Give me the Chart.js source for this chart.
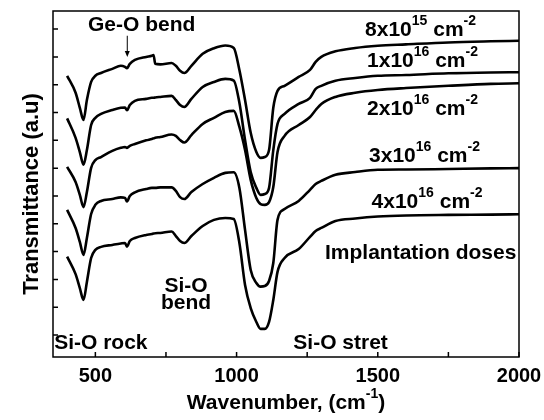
<!DOCTYPE html>
<html>
<head>
<meta charset="utf-8">
<script src="https://cdn.jsdelivr.net/npm/chart.js@4.4.1/dist/chart.umd.min.js"></script>
<style>
html,body{margin:0;padding:0;background:#fff;}
</style>
</head>
<body>
<canvas id="ftirChart" width="544" height="420"></canvas>
<script>
// ==========================================
// DATA
// ==========================================

const wavenumber = [400,430,445,458,470,485,500,520,560,590,605,612,622,640,680,700,706,712,730,770,785,800,815,840,880,920,960,990,1010,1030,1050,1070,1085,1100,1115,1130,1145,1170,1220,1260,1280,1300,1350,1420,1500,1600,1750,1900,2000];

const dose8e15 = [9.32,8.71,8.17,7.73,8.45,9.10,9.32,9.42,9.57,9.68,9.64,9.59,9.75,9.89,10.00,10.04,10.07,9.75,9.73,9.78,9.68,9.50,9.42,9.68,10.11,10.31,10.41,10.32,9.53,8.45,7.27,6.58,6.37,6.40,6.65,8.17,8.78,8.96,9.28,9.53,9.82,10.00,10.20,10.32,10.40,10.45,10.52,10.56,10.58];

const dose1e16 = [7.79,7.09,6.58,6.12,6.65,7.55,7.81,7.95,8.09,8.17,8.18,8.08,8.27,8.42,8.49,8.53,8.53,8.54,8.56,8.60,8.45,8.27,8.20,8.49,8.92,9.10,9.21,9.15,8.35,7.01,5.86,5.29,5.04,5.07,5.29,6.65,7.59,7.95,8.31,8.53,8.85,8.96,9.14,9.24,9.32,9.35,9.41,9.44,9.45];

const dose2e16 = [6.05,5.50,5.04,4.60,5.14,6.01,6.29,6.40,6.62,6.73,6.76,6.73,6.80,6.87,7.00,7.05,7.07,7.09,7.12,7.21,7.16,7.01,6.92,7.19,7.59,7.81,8.02,8.06,7.48,6.65,5.58,4.93,4.71,4.68,4.78,5.32,6.58,7.16,7.55,7.84,8.09,8.31,8.56,8.71,8.81,8.88,8.96,9.03,9.05];

const dose3e16 = [4.50,3.85,3.35,2.88,3.49,4.35,4.68,4.82,4.89,4.95,4.93,4.80,5.00,5.13,5.25,5.29,5.29,5.29,5.31,5.31,5.18,4.96,4.89,5.14,5.43,5.65,5.83,5.85,5.29,3.78,2.34,1.87,1.74,1.76,1.94,2.59,4.14,4.53,4.82,5.22,5.43,5.54,5.76,5.86,5.94,5.95,5.97,5.99,6.00];

const dose4e16 = [2.82,2.19,1.69,1.26,1.91,2.77,3.06,3.17,3.24,3.29,3.31,3.18,3.38,3.49,3.60,3.63,3.65,3.66,3.67,3.72,3.56,3.38,3.31,3.56,3.92,4.14,4.21,4.17,3.31,1.80,0.97,0.47,0.22,0.22,0.47,1.26,2.27,2.77,3.09,3.53,3.74,3.85,4.10,4.19,4.26,4.30,4.32,4.33,4.34];

const doseLabels = ["8x10^{15} cm^{-2}","1x10^{16} cm^{-2}","2x10^{16} cm^{-2}","3x10^{16} cm^{-2}","4x10^{16} cm^{-2}"];


// ==========================================
// TEXT ON THE PLOT (positions in data units)
// ==========================================

const notes = [
    {text:doseLabels[0], x:1455, y:10.76, align:"left"},
    {text:doseLabels[1], x:1462, y:9.65, align:"left"},
    {text:doseLabels[2], x:1462, y:7.91, align:"left"},
    {text:doseLabels[3], x:1469, y:6.23, align:"left"},
    {text:doseLabels[4], x:1478, y:4.58, align:"left"},
    {text:"Implantation doses", x:1313, y:2.72, align:"left"},
    {text:"Ge-O bend", x:474, y:10.92, align:"left"},
    {text:"Si-O", x:821, y:1.56, align:"center"},
    {text:"bend", x:821, y:0.92, align:"center"},
    {text:"Si-O rock", x:354, y:-0.51, align:"left"},
    {text:"Si-O stret", x:1201, y:-0.51, align:"left"}
];

const FONT = '"Liberation Sans", Arial, sans-serif';
Chart.defaults.font.family = FONT;
Chart.defaults.color = "#000";

// text with ^{...} superscripts
function drawRich(ctx, str, x, y, align, size){

    size = size || 21;
    const big = "bold " + size + "px " + FONT;
    const small = "bold " + Math.round(size * 0.67) + "px " + FONT;
    const parts = str.split(/(\^\{[^}]*\})/).filter(s => s.length).map(s =>
        s.startsWith("^{") ? {t:s.slice(2,-1), sup:true} : {t:s, sup:false});

    let w = 0;
    parts.forEach(p => { ctx.font = p.sup ? small : big; w += ctx.measureText(p.t).width; });

    let cx = align === "center" ? x - w/2 : x;
    ctx.textAlign = "left";
    ctx.textBaseline = "alphabetic";
    parts.forEach(p => {
        ctx.font = p.sup ? small : big;
        ctx.fillText(p.t, cx, p.sup ? y - size * 0.52 : y);
        cx += ctx.measureText(p.t).width;
    });
}

const framePlugin = {

    id:"frame",

    afterDatasetsDraw(chart){

        const {ctx, chartArea:a, scales:{x, y}} = chart;

        ctx.save();
        ctx.strokeStyle = "#000";
        ctx.fillStyle = "#000";

        // box
        ctx.lineWidth = 1.5;
        ctx.strokeRect(a.left, a.top, a.right - a.left, a.bottom - a.top);

        // inward ticks
        ctx.beginPath();
        x.ticks.forEach(t => {
            const px = x.getPixelForValue(t.value);
            ctx.moveTo(px, a.bottom);
            ctx.lineTo(px, a.bottom - 5);
        });
        y.ticks.forEach(t => {
            const py = y.getPixelForValue(t.value);
            ctx.moveTo(a.left, py);
            ctx.lineTo(a.left + 5, py);
        });
        ctx.stroke();

        // labels
        notes.forEach(n => drawRich(ctx, n.text, x.getPixelForValue(n.x), y.getPixelForValue(n.y), n.align));

        // Ge-O arrow
        const ax = x.getPixelForValue(613);
        const ay0 = y.getPixelForValue(10.76);
        const ay1 = y.getPixelForValue(10.0);
        ctx.lineWidth = 1;
        ctx.beginPath();
        ctx.moveTo(ax, ay0);
        ctx.lineTo(ax, ay1 - 5);
        ctx.stroke();
        ctx.beginPath();
        ctx.moveTo(ax - 2.5, ay1 - 6);
        ctx.lineTo(ax + 2.5, ay1 - 6);
        ctx.lineTo(ax, ay1);
        ctx.closePath();
        ctx.fill();

        // axis titles
        drawRich(ctx, "Wavenumber, (cm^{-1})", (a.left + a.right)/2, 409, "center");

        ctx.translate(38, 194);
        ctx.rotate(-Math.PI/2);
        drawRich(ctx, "Transmittance (a.u)", 0, 0, "center", 22);

        ctx.restore();
    }
};


// ==========================================
// CHART
// ==========================================

const series = [dose8e15, dose1e16, dose2e16, dose3e16, dose4e16];

const ctx = document.getElementById("ftirChart").getContext("2d");

const chart = new Chart(ctx,{

    type:"line",

    data:{
        datasets: series.map((s, i) => ({
            label: doseLabels[i],
            data: wavenumber.map((w, k) => ({x:w, y:s[k]})),
            borderColor:"#000",
            borderWidth:2.6,
            pointRadius:0,
            fill:false,
            cubicInterpolationMode:"monotone"
        }))
    },

    options:{

        responsive:false,
        animation:false,
        devicePixelRatio:1,

        layout:{ padding:{top:11, right:25, bottom:0, left:0} },

        plugins:{
            legend:{ display:false },
            tooltip:{ enabled:false }
        },

        scales:{

            x:{
                type:"linear",
                min:350,
                max:2000,
                grid:{ display:false },
                border:{ display:false },
                ticks:{
                    stepSize:250,
                    includeBounds:false,
                    autoSkip:false,
                    maxRotation:0,
                    padding:-1,
                    color:"#000",
                    font:{ size:20, weight:"bold" },
                    callback: v => v % 500 === 0 ? v : ""
                },
                afterFit: s => { s.height = 63; }
            },

            y:{
                min:-0.79,
                max:11.65,
                grid:{ display:false },
                border:{ display:false },
                ticks:{ stepSize:1, includeBounds:false, display:false },
                afterFit: s => { s.width = 53; }
            }
        }
    },

    plugins:[framePlugin]
});
</script>
</body>
</html>
